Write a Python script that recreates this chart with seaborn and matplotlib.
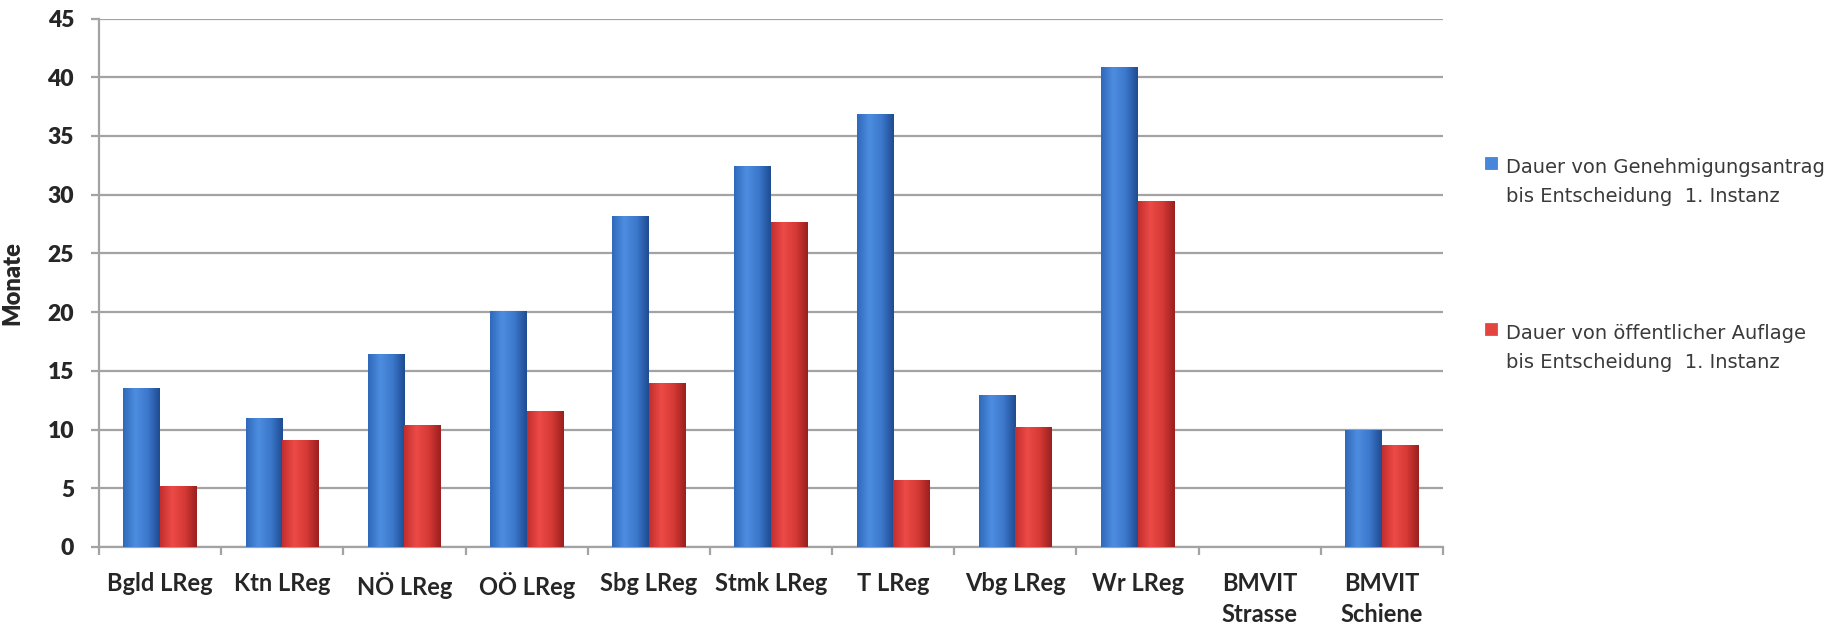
import numpy as np
import pandas as pd
import matplotlib
matplotlib.use("Agg")
import matplotlib.pyplot as plt
import seaborn as sns
from matplotlib.colors import LinearSegmentedColormap, to_rgba
from matplotlib.patches import Rectangle

# Durations in months per authority
categories = ["Bgld LReg", "Ktn LReg", "NÖ LReg", "OÖ LReg", "Sbg LReg", "Stmk LReg",
              "T LReg", "Vbg LReg", "Wr LReg", "BMVIT\nStrasse", "BMVIT\nSchiene"]
antrag_bis_entscheidung = [13.5, 11.0, 16.4, 20.1, 28.2, 32.4, 36.9, 12.9, 40.9, np.nan, 10.0]
auflage_bis_entscheidung = [5.2, 9.1, 10.4, 11.6, 14.0, 27.7, 5.7, 10.2, 29.5, np.nan, 8.7]
series_names = ["Dauer von Genehmigungsantrag\nbis Entscheidung  1. Instanz",
                "Dauer von öffentlicher Auflage\nbis Entscheidung  1. Instanz"]
y_ticks = [0, 5, 10, 15, 20, 25, 30, 35, 40, 45]

df = pd.DataFrame({
    "Kategorie": categories * 2,
    "Monate": antrag_bis_entscheidung + auflage_bis_entscheidung,
    "Reihe": [series_names[0]] * len(categories) + [series_names[1]] * len(categories),
})

sns.set_theme(style="white")
plt.rcParams["font.family"] = ["Lato", "DejaVu Sans"]

base_colors = ["#3a78cc", "#d8363a"]
text_dark = "#262626"
grid_grey = "#a3a3a3"

fig = plt.figure(figsize=(18.37, 6.28), dpi=100)
ax = fig.add_axes([0.0539, 0.129, 0.7316, 0.8415])

sns.barplot(data=df, x="Kategorie", y="Monate", hue="Reihe", palette=base_colors,
            width=0.6, saturation=1, ax=ax, legend=False, zorder=3)

# cylinder-like shading on every bar, clipped to the bar itself
cmaps = [
    LinearSegmentedColormap.from_list("b", ["#2f68ba", "#4d8de0", "#3c78cc", "#1e4b90"]),
    LinearSegmentedColormap.from_list("r", ["#c22e2e", "#ec4a46", "#d63a36", "#9a1f1f"]),
]
blue_rgba = np.array(to_rgba(base_colors[0]))
grad = np.linspace(0, 1, 256).reshape(1, -1)
n = len(categories)
for patch in list(ax.patches):
    h = patch.get_height()
    if not np.isfinite(h) or h <= 0:
        continue
    is_blue = np.allclose(np.array(patch.get_facecolor()), blue_rgba, atol=0.02)
    x0, w = patch.get_x(), patch.get_width()
    im = ax.imshow(grad, cmap=cmaps[0] if is_blue else cmaps[1],
                   extent=[x0, x0 + w, 0, h], aspect="auto",
                   zorder=4, interpolation="bilinear")
    im.set_clip_path(patch)
    patch.set_edgecolor("none")

ax.set_xlim(-0.5, n - 0.5)
ax.set_ylim(0, 45)
ax.set_aspect("auto")

ax.yaxis.grid(True, color=grid_grey, linewidth=1.6, zorder=0)
ax.set_axisbelow(True)
for side in ["top", "right"]:
    ax.spines[side].set_visible(False)
for side in ["left", "bottom"]:
    ax.spines[side].set_color(grid_grey)
    ax.spines[side].set_linewidth(1.6)

ax.tick_params(axis="y", which="major", left=True, length=6, width=1.6, color=grid_grey, pad=12)
ax.tick_params(axis="x", which="major", length=0, pad=18)
ax.tick_params(axis="x", which="minor", bottom=True, length=6, width=1.6, color=grid_grey)

ax.set_yticks(y_ticks)
ax.set_yticklabels([str(v) for v in y_ticks], fontsize=16.5, fontweight="bold", color=text_dark)
ax.set_xticks(range(n))
ax.set_xticklabels(categories, fontsize=17, fontweight="bold", color=text_dark, linespacing=1.4)
ax.set_xticks(np.arange(-0.5, n, 1.0), minor=True)

ax.set_xlabel("")
ax.set_ylabel("Monate", fontsize=17, fontweight="bold", color=text_dark)
ax.yaxis.set_label_coords(-0.0565, 0.5)


class TopSquareHandler:
    """Small square legend key aligned with the first line of a two-line label."""

    def __init__(self, color):
        self.color = color

    def legend_artist(self, legend, orig_handle, fontsize, handlebox):
        s = handlebox.width
        rect = Rectangle((-handlebox.xdescent, -handlebox.ydescent + 1.0 * fontsize), s, s,
                         facecolor=self.color, edgecolor="#7a7a7a", linewidth=0.6,
                         transform=handlebox.get_transform())
        handlebox.add_artist(rect)
        return rect


handles = [Rectangle((0, 0), 1, 1, facecolor=c) for c in base_colors]
leg = fig.legend(handles, series_names, loc="upper left", bbox_to_anchor=(0.8084, 0.749),
                 frameon=False, prop={"family": "DejaVu Sans", "size": 14},
                 handlelength=0.62, handleheight=0.62,
                 handletextpad=0.45, labelspacing=6.07, borderpad=0, borderaxespad=0,
                 labelcolor="#3a3a3a",
                 handler_map={handles[0]: TopSquareHandler(cmaps[0](0.45)),
                              handles[1]: TopSquareHandler(cmaps[1](0.45))})
for t in leg.get_texts():
    t.set_linespacing(1.67)

# make sure the value axis labels keep their heavy weight after layout
fig.canvas.draw()
for lbl in ax.get_yticklabels():
    lbl.set_fontweight("heavy")
ax.yaxis.label.set_fontweight("heavy")

fig.savefig("out.png", dpi=100, facecolor="white")
